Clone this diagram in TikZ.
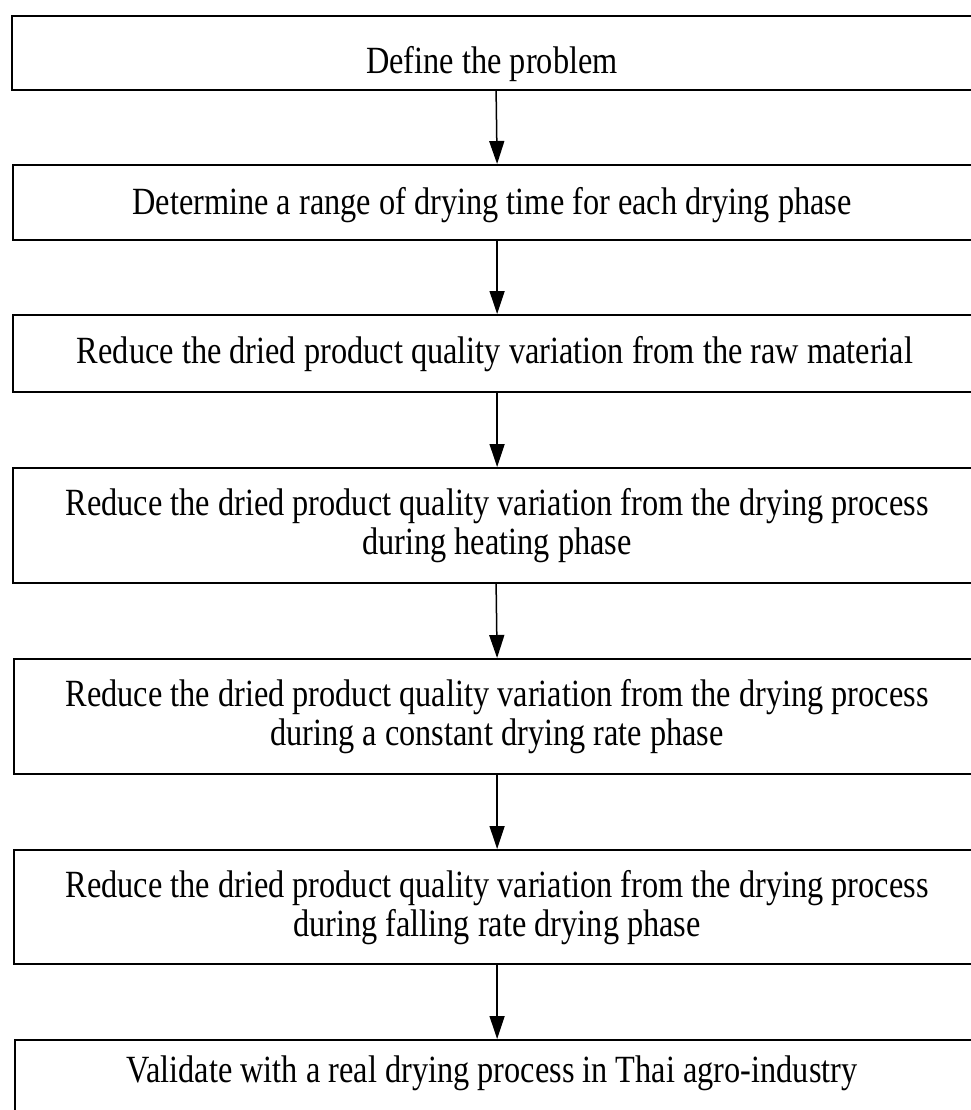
\documentclass[tikz,border=0pt]{standalone}
\usepackage{fontspec}
\setmainfont{Liberation Serif}[FakeStretch=0.84]
\usetikzlibrary{arrows.meta}
\begin{document}
\begin{tikzpicture}[x=1pt,y=-1pt,
  box/.style={draw, line width=2.2pt, minimum width=964pt, inner sep=0pt, anchor=north west},
  lbl/.style={font=\fontsize{38.5}{39}\selectfont, align=center, inner sep=0pt},
  arr/.style={line width=1.5pt, -{Triangle[length=23pt,width=15pt]}}]
\useasboundingbox (0,0) rectangle (970,1110);
\fill[white] (0,0) rectangle (970,1110);
% boxes
\node[box, minimum height=74pt]  (b1) at (11,15) {};
\node[box, minimum height=75pt]  (b2) at (12,164) {};
\node[box, minimum height=77pt]  (b3) at (12,314) {};
\node[box, minimum height=115pt] (b4) at (12,467) {};
\node[box, minimum height=115pt] (b5) at (13,658) {};
\node[box, minimum height=114pt] (b6) at (13,849) {};
\node[box, minimum height=100pt] (b7) at (14,1039) {};
% labels
\node[lbl] (t1) at (492,64) {Define the problem};
\node[lbl] (t2) at (492,205) {Determine a range of drying time for each drying phase};
\node[lbl] (t3) at (495,354) {Reduce the dried product quality variation from the raw material};
\node[lbl] (t4) at (497,526) {Reduce the dried product quality variation from the drying process\\during heating phase};
\node[lbl] (t5) at (497,717) {Reduce the dried product quality variation from the drying process\\during a constant drying rate phase};
\node[lbl] (t6) at (497,908) {Reduce the dried product quality variation from the drying process\\during falling rate drying phase};
\node[lbl] (t7) at (492,1073) {Validate with a real drying process in Thai agro-industry};
% arrows
\draw[arr] ([xshift=2pt]b1.south) -- ([xshift=2pt]b2.north);
\draw[arr] ([xshift=2pt]b2.south) -- ([xshift=2pt]b3.north);
\draw[arr] ([xshift=2pt]b3.south) -- ([xshift=2pt]b4.north);
\draw[arr] ([xshift=1pt]b4.south) -- ([xshift=1pt]b5.north);
\draw[arr] ([xshift=1pt]b5.south) -- ([xshift=1pt]b6.north);
\draw[arr] ([xshift=1pt]b6.south) -- ([xshift=0pt]b7.north);
\end{tikzpicture}
\end{document}
